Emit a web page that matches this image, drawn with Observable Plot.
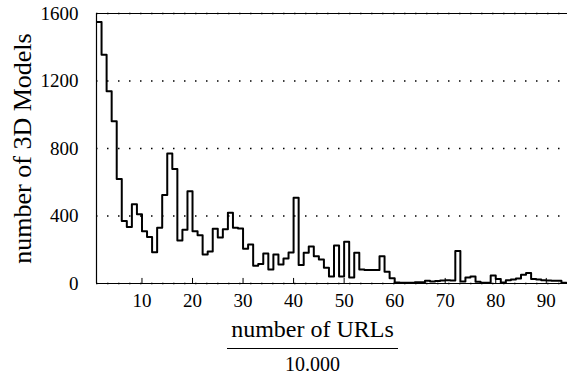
<!DOCTYPE html>
<html>
<head>
<meta charset="utf-8">
<script src="https://cdn.jsdelivr.net/npm/d3@7"></script>
<script src="https://cdn.jsdelivr.net/npm/@observablehq/plot@0.6"></script>
<style>
  html, body { margin: 0; padding: 0; background: #fff; }
  #wrap { position: relative; width: 569px; height: 375px; font-family: "Liberation Serif", "DejaVu Serif", serif; }
  #xlab { position: absolute; left: 0; width: 569px; top: 314px; text-align: center; }
  .frac { display: inline-block; text-align: center; margin-left: 56px; }
  .num { font-size: 24px; line-height: 30px; border-bottom: 1.5px solid #000; padding: 0 4px 4px 4px; }
  .den { font-size: 20px; line-height: 30px; }
</style>
</head>
<body>
<div id="wrap">
  <div id="chart"></div>
  <div id="xlab"><div class="frac"><div class="num">number of URLs</div><div class="den">10.000</div></div></div>
</div>
<script>
// bin start (number of URLs / 10.000)
const binStart = [1,2,3,4,5,6,7,8,9,10,11,12,13,14,15,16,17,18,19,20,21,22,23,24,25,26,27,28,29,30,31,32,33,34,35,36,37,38,39,40,41,42,43,44,45,46,47,48,49,50,51,52,53,54,55,56,57,58,59,60,61,62,63,64,65,66,67,68,69,70,71,72,73,74,75,76,77,78,79,80,81,82,83,84,85,86,87,88,89,90,91,92,93,94];
// number of 3D models in each bin
const models = [1550,1355,1140,962,620,370,335,470,410,310,275,185,330,525,770,678,255,318,547,310,286,172,190,324,273,322,419,330,326,206,231,105,115,178,83,172,113,148,184,508,109,182,219,161,142,93,41,225,41,248,35,182,83,80,80,80,161,70,31,6,4,4,4,8,8,16,12,15,18,20,18,192,12,35,42,10,5,5,47,27,6,20,24,30,52,62,26,24,20,18,16,16,4,2];
const xTicks = [10,20,30,40,50,60,70,80,90];
const yTicks = [0,400,800,1200,1600];
const yLabel = "number of 3D Models";

const pts = binStart.map((b, i) => ({x: b, y: models[i]}));
pts.push({x: binStart[binStart.length - 1] + 1, y: models[models.length - 1]});

const chart = Plot.plot({
  width: 569,
  height: 312,
  marginTop: 13,
  marginBottom: 29,
  marginLeft: 96,
  marginRight: 2,
  style: {fontFamily: "Liberation Serif, serif", fontSize: "19px", color: "#000", background: "#fff"},
  x: {domain: [1, 94.2]},
  y: {domain: [0, 1600]},
  marks: [
    Plot.ruleY(yTicks, {stroke: "#000", strokeWidth: 1.4, strokeDasharray: "1.5,9.5"}),
    Plot.ruleY([1600], {stroke: "#000", strokeWidth: 1}),
    Plot.ruleY([0], {stroke: "#000", strokeWidth: 1.2}),
    Plot.ruleX([1], {stroke: "#000", strokeWidth: 1.2}),
    Plot.ruleX(xTicks, {y1: 0, y2: 30, stroke: "#000", strokeWidth: 1}),
    Plot.axisX({ticks: xTicks, tickSize: 0, tickPadding: 10, label: null, fontSize: 19, tickFormat: d => String(d)}),
    Plot.axisY({ticks: yTicks, tickSize: 0, tickPadding: 18, label: null, fontSize: 19, tickFormat: d => String(d)}),
    Plot.line(pts, {x: "x", y: "y", curve: "step-after", stroke: "#000", strokeWidth: 2, clip: true}),
    Plot.text([yLabel], {frameAnchor: "left", textAnchor: "middle", rotate: -90, dx: -74, fontSize: 26})
  ]
});
document.getElementById("chart").appendChild(chart);
</script>
</body>
</html>
